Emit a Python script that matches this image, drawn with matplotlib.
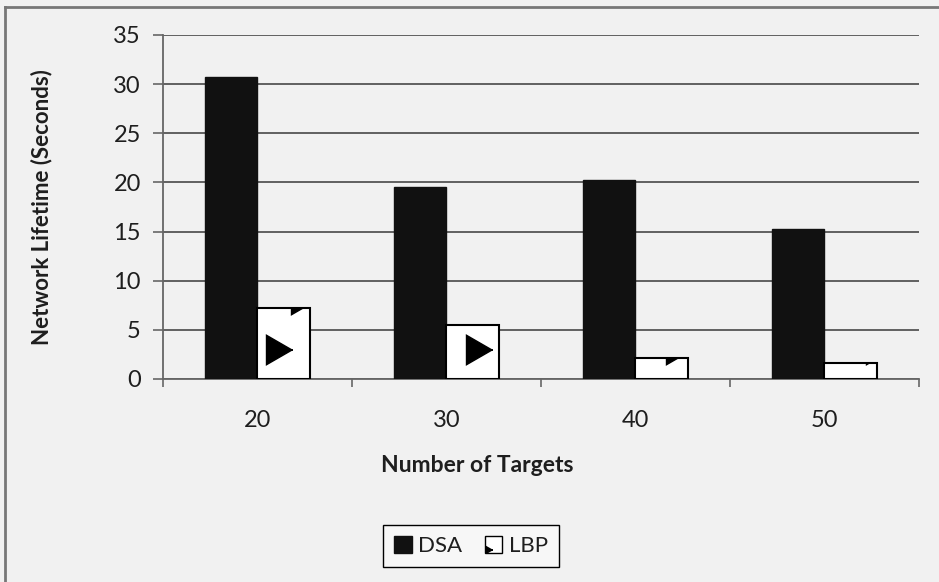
import numpy as np
import matplotlib
matplotlib.use("Agg")
import matplotlib.pyplot as plt
from matplotlib import hatch as mhatch
from matplotlib.path import Path
from matplotlib.patches import Patch
from matplotlib.lines import Line2D

# data
targets = ["20", "30", "40", "50"]
dsa = [30.7, 19.5, 20.2, 15.3]
lbp = [7.2, 5.5, 2.1, 1.6]
y_ticks = [0, 5, 10, 15, 20, 25, 30, 35]


# --- right-pointing triangle hatch (takes over the '*' hatch) ---
class TriangleHatch(mhatch.Shapes):
    size = 0.34
    filled = True

    def __init__(self, hatch, density):
        self.num_rows = hatch.count('*') * 2
        verts = Path.unit_regular_polygon(3).vertices
        self.shape_vertices = np.column_stack([verts[:, 1], -verts[:, 0]])
        self.shape_codes = np.full(len(self.shape_vertices), Path.LINETO,
                                   dtype=Path.code_type)
        self.shape_codes[0] = Path.MOVETO
        super().__init__(hatch, density)


mhatch._hatch_types[mhatch._hatch_types.index(mhatch.Stars)] = TriangleHatch

plt.rcParams['font.family'] = ['Lato', 'DejaVu Sans']
plt.rcParams['hatch.color'] = 'black'

bg = '#f1f1f1'
txt = '#1e1e1e'
fig = plt.figure(figsize=(9.39, 5.82), dpi=100, facecolor=bg)
ax = fig.add_axes([0.1736, 0.3488, 0.805, 0.5911], facecolor=bg)

x = np.arange(len(targets))
w = 0.28
ax.bar(x - w / 2, dsa, w, color='#111111', edgecolor='#111111', zorder=3)
ax.bar(x + w / 2, lbp, w, color='white', edgecolor='black', linewidth=1.5,
       hatch='*', zorder=3)

ax.set_xlim(-0.5, len(targets) - 0.5)
ax.set_ylim(0, 35)
ax.set_yticks(y_ticks)
ax.yaxis.grid(True, color='#555555', linewidth=1.3, zorder=0)
ax.tick_params(axis='y', length=7, width=1.2, color='#666666',
               labelsize=17, pad=9, labelcolor=txt)

# category boundaries as major ticks, labels on minor ticks
ax.set_xticks(np.arange(-0.5, len(targets), 1.0))
ax.set_xticklabels([])
ax.set_xticks(x, minor=True)
ax.set_xticklabels(targets, minor=True)
ax.tick_params(axis='x', which='major', length=6, width=1.2, color='#666666')
ax.tick_params(axis='x', which='minor', length=0, pad=22, labelsize=17,
               labelcolor=txt)

for s in ['top', 'right']:
    ax.spines[s].set_visible(False)
for s in ['left', 'bottom']:
    ax.spines[s].set_color('#666666')
    ax.spines[s].set_linewidth(1.3)

ax.set_ylabel("Network Lifetime (Seconds)", fontsize=16, fontweight='bold',
              color=txt)
ax.yaxis.set_label_coords(-0.147, 0.5)
fig.text(477 / 939, 1 - 466 / 582, "Number of Targets", fontsize=16.5,
         fontweight='bold', color=txt, ha='center', va='center')

handles = [Patch(facecolor='#111111', edgecolor='#111111', label='DSA'),
           Patch(facecolor='white', edgecolor='black', hatch='*', label='LBP')]
leg = fig.legend(handles=handles, ncol=2, loc='center',
                 bbox_to_anchor=(471 / 939, 1 - 546 / 582), fontsize=16,
                 handlelength=0.8, handleheight=0.8, handletextpad=0.3,
                 columnspacing=1.0, fancybox=False, edgecolor='black',
                 facecolor='#f7f7f7', framealpha=1, borderpad=0.5)
leg.get_frame().set_linewidth(1.0)
for t in leg.get_texts():
    t.set_color(txt)

# scanned page frame
fig.add_artist(Line2D([5 / 939, 5 / 939], [0, 1 - 7 / 582], color='#777777',
                      linewidth=2, transform=fig.transFigure))
fig.add_artist(Line2D([5 / 939, 1], [1 - 7 / 582, 1 - 7 / 582], color='#777777',
                      linewidth=2, transform=fig.transFigure))

fig.savefig("out.png", dpi=100, facecolor=bg)
